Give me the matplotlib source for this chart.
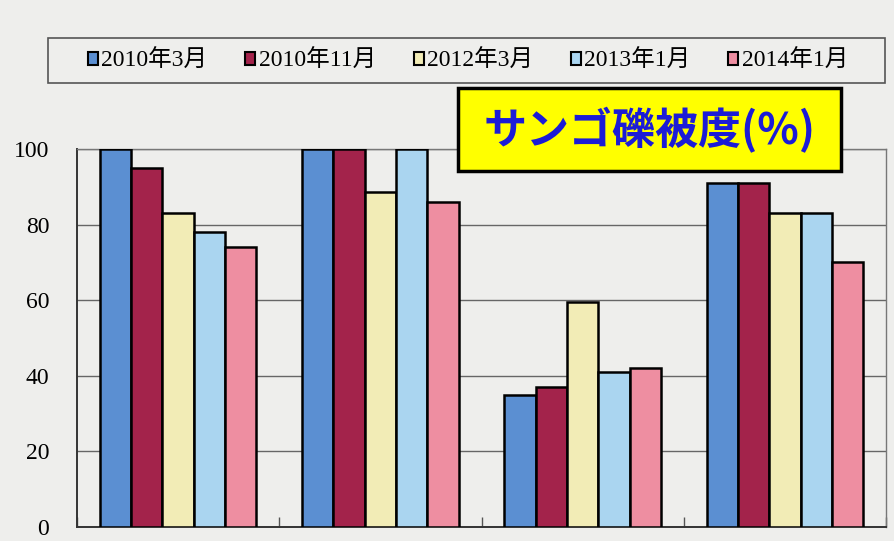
import matplotlib
matplotlib.use('Agg')
import matplotlib.pyplot as plt
from matplotlib.patches import Patch, Rectangle
import numpy as np

# data
sites = ['A', 'B', 'C', 'D']
periods = ['2010年3月', '2010年11月', '2012年3月', '2013年1月', '2014年1月']
mar_2010 = [100, 100, 35, 91]
nov_2010 = [95, 100, 37, 91]
mar_2012 = [83, 88.5, 59.5, 83]
jan_2013 = [78, 100, 41, 83]
jan_2014 = [74, 86, 42, 70]
y_ticks = [0, 20, 40, 60, 80, 100]
title = 'サンゴ礫被度(%)'

series = [mar_2010, nov_2010, mar_2012, jan_2013, jan_2014]
colors = ['#5b8fd2', '#a3234b', '#f2ecb6', '#aad5f0', '#ee8ea1']

paper = '#eeeeec'
serif = ['Liberation Serif', 'Noto Sans CJK JP']

fig = plt.figure(figsize=(8.94, 5.41), dpi=100, facecolor=paper)
ax = fig.add_axes([0.0861, 0.0259, 0.9050, 0.6987])
ax.set_facecolor(paper)

x = np.arange(len(sites))
w = 0.155
for i, (vals, c) in enumerate(zip(series, colors)):
	ax.bar(x + (i - 2) * w, vals, w, color=c, edgecolor='black', linewidth=1.8,
	       zorder=3, label=periods[i])

ax.set_xlim(-0.5, len(sites) - 0.5)
ax.set_ylim(0, 100)
ax.set_yticks(y_ticks)
ax.set_yticklabels([str(v) for v in y_ticks], family=serif, fontsize=17)
ax.tick_params(axis='y', length=0, pad=20)
ax.yaxis.grid(True, color='#666666', linewidth=1.0, zorder=0)

# little ticks between the site groups
ax.set_xticks(np.arange(len(sites) + 1) - 0.5)
ax.set_xticklabels([])
ax.tick_params(axis='x', direction='in', length=7, width=1, color='#555555')

for side in ['top', 'right']:
	ax.spines[side].set_color('#777777')
	ax.spines[side].set_linewidth(1.0)
for side in ['left', 'bottom']:
	ax.spines[side].set_color('#333333')
	ax.spines[side].set_linewidth(1.4)

# legend frame drawn separately, entries centred inside it
frame = Rectangle((48 / 894, 1 - 83 / 541), 837 / 894, 45 / 541, transform=fig.transFigure,
                  facecolor=paper, edgecolor='#555555', linewidth=1.2, zorder=1)
fig.patches.append(frame)
handles = [Patch(facecolor=c, edgecolor='black', linewidth=1.5) for c in colors]
leg = fig.legend(handles, periods, loc='center', ncol=5,
                 bbox_to_anchor=(468 / 894, 1 - 61 / 541),
                 prop={'family': serif, 'size': 17}, frameon=False,
                 handlelength=0.42, handleheight=0.42, handletextpad=0.15,
                 columnspacing=1.6, borderpad=0, borderaxespad=0)
leg.set_zorder(2)

# yellow title box over the top of the plot
box = Rectangle((458 / 894, 1 - 171 / 541), 383 / 894, 83 / 541, transform=fig.transFigure,
                facecolor='#ffff00', edgecolor='black', linewidth=2.5, zorder=5)
fig.patches.append(box)
fig.text(649.5 / 894, 1 - 130 / 541, title, ha='center', va='center', color='#1c1cd6',
         fontsize=31, family=['Noto Sans CJK JP', 'DejaVu Sans'], weight='bold', zorder=6)

plt.savefig('out.png', dpi=100, facecolor=paper)
